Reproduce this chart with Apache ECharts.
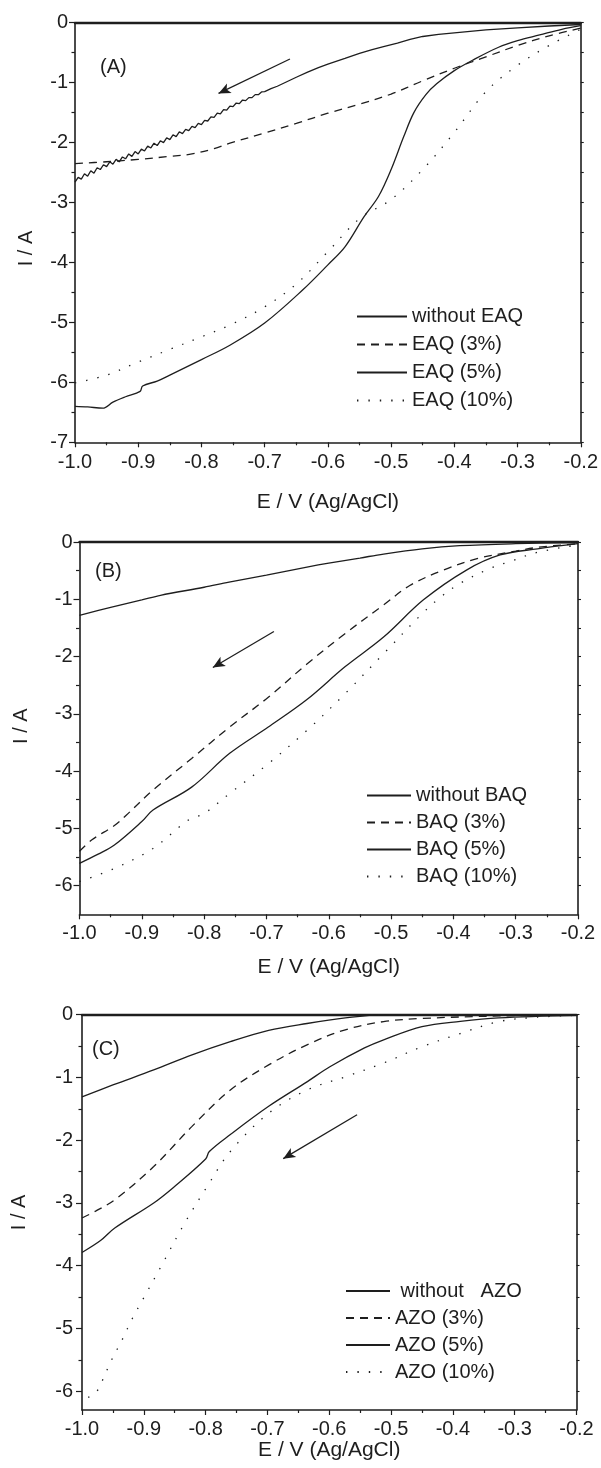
<!DOCTYPE html>
<html><head><meta charset="utf-8">
<script src="https://cdn.jsdelivr.net/npm/echarts@6/dist/echarts.min.js"></script>
<style>html,body{margin:0;padding:0;background:#fff}#c{width:601px;height:1468px}</style>
</head><body><div id="c"></div><script>
// ---------------- data ----------------
const xRange = [-1.0, -0.2];
const panelLabels = ['(A)', '(B)', '(C)'];
const xTitle = 'E / V (Ag/AgCl)';
const yTitle = 'I / A';

const yTicksA = [0, -1, -2, -3, -4, -5, -6, -7];
const yMinorA = [-0.5, -1.5, -2.5, -3.5, -4.5, -5.5, -6.5];
const yTicksB = [0, -1, -2, -3, -4, -5, -6];
const yMinorB = [-0.5, -1.5, -2.5, -3.5, -4.5, -5.5];
const yTicksC = [0, -1, -2, -3, -4, -5, -6];
const yMinorC = [-0.5, -1.5, -2.5, -3.5, -4.5, -5.5];
const yMin = [-7, -6.5, -6.3];

const namesA = ['without EAQ', 'EAQ (3%)', 'EAQ (5%)', 'EAQ (10%)'];
const namesB = ['without BAQ', 'BAQ (3%)', 'BAQ (5%)', 'BAQ (10%)'];
const namesC = [' without   AZO', 'AZO (3%)', 'AZO (5%)', 'AZO (10%)'];

// Panel A
const A_without = [[-1.000,-2.66],[-0.995,-2.58],[-0.990,-2.61],[-0.985,-2.52],[-0.980,-2.56],[-0.975,-2.47],[-0.970,-2.51],[-0.965,-2.42],[-0.960,-2.45],[-0.955,-2.37],[-0.950,-2.40],[-0.945,-2.32],[-0.940,-2.36],[-0.935,-2.28],[-0.930,-2.32],[-0.925,-2.24],[-0.920,-2.27],[-0.915,-2.19],[-0.910,-2.23],[-0.905,-2.15],[-0.900,-2.19],[-0.895,-2.11],[-0.890,-2.14],[-0.885,-2.06],[-0.880,-2.09],[-0.875,-2.01],[-0.870,-2.05],[-0.865,-1.97],[-0.860,-2.00],[-0.855,-1.92],[-0.850,-1.95],[-0.845,-1.87],[-0.840,-1.90],[-0.835,-1.82],[-0.830,-1.85],[-0.825,-1.78],[-0.820,-1.80],[-0.815,-1.73],[-0.810,-1.75],[-0.805,-1.68],[-0.800,-1.70],[-0.795,-1.63],[-0.790,-1.64],[-0.785,-1.57],[-0.780,-1.58],[-0.775,-1.51],[-0.770,-1.52],[-0.765,-1.45],[-0.760,-1.46],[-0.755,-1.39],[-0.750,-1.40],[-0.745,-1.34],[-0.740,-1.35],[-0.735,-1.29],[-0.730,-1.30],[-0.725,-1.25],[-0.720,-1.25],[-0.715,-1.20],[-0.710,-1.20],[-0.705,-1.155],[-0.700,-1.15],[-0.69,-1.10],[-0.68,-1.06],[-0.67,-1.01],[-0.66,-0.96],[-0.65,-0.91],[-0.633,-0.83],[-0.615,-0.75],[-0.60,-0.69],[-0.573,-0.595],[-0.55,-0.51],[-0.53,-0.45],[-0.512,-0.40],[-0.49,-0.34],[-0.47,-0.28],[-0.45,-0.23],[-0.425,-0.195],[-0.40,-0.17],[-0.35,-0.12],[-0.30,-0.085],[-0.25,-0.055],[-0.20,-0.03]];
const A_3 = [[-1.00,-2.35],[-0.95,-2.32],[-0.90,-2.28],[-0.85,-2.23],[-0.815,-2.19],[-0.78,-2.10],[-0.755,-2.01],[-0.70,-1.84],[-0.65,-1.68],[-0.60,-1.51],[-0.55,-1.36],[-0.50,-1.19],[-0.45,-0.97],[-0.40,-0.76],[-0.35,-0.57],[-0.30,-0.38],[-0.25,-0.22],[-0.20,-0.09]];
const A_5 = [[-1.00,-6.40],[-0.98,-6.41],[-0.956,-6.43],[-0.94,-6.33],[-0.92,-6.24],[-0.897,-6.15],[-0.893,-6.06],[-0.87,-5.98],[-0.85,-5.88],[-0.80,-5.62],[-0.755,-5.38],[-0.70,-5.01],[-0.64,-4.46],[-0.60,-4.04],[-0.573,-3.74],[-0.543,-3.24],[-0.52,-2.90],[-0.50,-2.45],[-0.48,-1.90],[-0.464,-1.50],[-0.445,-1.20],[-0.428,-1.02],[-0.40,-0.80],[-0.37,-0.62],[-0.33,-0.41],[-0.30,-0.30],[-0.265,-0.205],[-0.23,-0.11],[-0.20,-0.05]];
const A_10 = [[-1.00,-6.01],[-0.95,-5.88],[-0.90,-5.66],[-0.85,-5.45],[-0.80,-5.24],[-0.75,-5.02],[-0.70,-4.74],[-0.65,-4.36],[-0.60,-3.82],[-0.55,-3.27],[-0.50,-2.95],[-0.45,-2.45],[-0.40,-1.83],[-0.35,-1.15],[-0.30,-0.71],[-0.25,-0.38],[-0.20,-0.11]];

// Panel B
const B_without = [[-1.00,-1.28],[-0.95,-1.14],[-0.90,-1.01],[-0.87,-0.93],[-0.80,-0.79],[-0.76,-0.70],[-0.70,-0.58],[-0.635,-0.44],[-0.60,-0.37],[-0.55,-0.28],[-0.512,-0.21],[-0.45,-0.12],[-0.39,-0.065],[-0.30,-0.03],[-0.20,-0.01]];
const B_3 = [[-1.00,-5.40],[-0.98,-5.20],[-0.944,-4.95],[-0.925,-4.77],[-0.882,-4.33],[-0.82,-3.78],[-0.759,-3.23],[-0.697,-2.71],[-0.635,-2.13],[-0.574,-1.60],[-0.512,-1.10],[-0.47,-0.76],[-0.416,-0.49],[-0.362,-0.29],[-0.30,-0.16],[-0.265,-0.094],[-0.20,-0.03]];
const B_5 = [[-1.00,-5.61],[-0.97,-5.45],[-0.944,-5.29],[-0.90,-4.88],[-0.882,-4.68],[-0.82,-4.28],[-0.759,-3.69],[-0.697,-3.23],[-0.635,-2.75],[-0.574,-2.18],[-0.512,-1.66],[-0.448,-1.01],[-0.379,-0.49],[-0.325,-0.226],[-0.265,-0.12],[-0.20,-0.03]];
const B_10 = [[-1.00,-5.93],[-0.944,-5.70],[-0.882,-5.35],[-0.826,-4.86],[-0.80,-4.74],[-0.759,-4.39],[-0.697,-3.87],[-0.635,-3.29],[-0.574,-2.65],[-0.512,-1.95],[-0.45,-1.25],[-0.419,-0.95],[-0.389,-0.72],[-0.341,-0.46],[-0.309,-0.34],[-0.265,-0.18],[-0.20,-0.05]];

// Panel C
const C_without = [[-1.00,-1.31],[-0.95,-1.12],[-0.884,-0.88],[-0.822,-0.64],[-0.76,-0.43],[-0.698,-0.25],[-0.636,-0.14],[-0.574,-0.05],[-0.512,0.005],[-0.443,0.05]];
const C_3 = [[-1.00,-3.24],[-0.978,-3.13],[-0.947,-2.95],[-0.884,-2.42],[-0.822,-1.78],[-0.76,-1.20],[-0.698,-0.80],[-0.636,-0.48],[-0.574,-0.24],[-0.512,-0.11],[-0.45,-0.06],[-0.326,-0.02],[-0.20,-0.005]];
const C_5 = [[-1.00,-3.79],[-0.97,-3.60],[-0.947,-3.40],[-0.884,-3.00],[-0.853,-2.76],[-0.80,-2.30],[-0.794,-2.18],[-0.76,-1.91],[-0.698,-1.46],[-0.636,-1.07],[-0.599,-0.83],[-0.543,-0.53],[-0.512,-0.40],[-0.45,-0.19],[-0.388,-0.105],[-0.326,-0.05],[-0.20,-0.01]];
const C_10 = [[-0.99,-6.10],[-0.978,-6.03],[-0.968,-5.85],[-0.953,-5.52],[-0.935,-5.18],[-0.919,-4.85],[-0.90,-4.51],[-0.872,-4.01],[-0.835,-3.34],[-0.797,-2.73],[-0.76,-2.18],[-0.698,-1.57],[-0.636,-1.20],[-0.574,-0.99],[-0.512,-0.77],[-0.45,-0.51],[-0.388,-0.30],[-0.326,-0.11],[-0.264,-0.04],[-0.20,-0.01]];

// scan-direction arrows (data coordinates: start -> end)
const arrowA = [[-0.660, -0.606], [-0.773, -1.18]];
const arrowB = [[-0.688, -1.563], [-0.786, -2.19]];
const arrowC = [[-0.555, -1.595], [-0.6745, -2.294]];

// ---------------- chart ----------------
const FONT = 'Liberation Sans, Arial, sans-serif';
const INK = '#1e1e1e';
const grids = [
  {left: 75, right: 20, top: 22.7, bottom: 1025.7},
  {left: 79.5, right: 23, top: 542, bottom: 553.7},
  {left: 82, right: 24.5, top: 1014.7, bottom: 58}
];
const L = [
  {yGap: 39, yPad: [0, 32, 0, 0], xGap: 49, yMargin: 7, xMargin: 10, legend: {left: 356, top: 306.5, itemGap: 8, itemWidth: 50}, label: {left: 100, top: 57}},
  {yGap: 48, yPad: [0, 0, 0, 4], xGap: 42, yMargin: 7, xMargin: 9, legend: {left: 366, top: 785.5, itemGap: 7, itemWidth: 44}, label: {left: 95, top: 561}},
  {yGap: 53, yPad: 0, xGap: 26, yMargin: 9, xMargin: 9, legend: {left: 345, top: 1281, itemGap: 7, itemWidth: 44}, label: {left: 92, top: 1039.5}}
];
const panels = [
  {names: namesA, data: [A_without, A_3, A_5, A_10], ticks: yTicksA, minor: yMinorA, arrow: arrowA},
  {names: namesB, data: [B_without, B_3, B_5, B_10], ticks: yTicksB, minor: yMinorB, arrow: arrowB},
  {names: namesC, data: [C_without, C_3, C_5, C_10], ticks: yTicksC, minor: yMinorC, arrow: arrowC}
];
const styles = [
  {type: 'solid'},
  {type: [8, 6]},
  {type: 'solid'},
  {type: [1.4, 10]}
];
const smoothing = [[0, 0.35, 0.35, 0.35], [0.35, 0.35, 0.35, 0.35], [0.35, 0.35, 0.35, 0.35]];

const option = {
  animation: false,
  backgroundColor: '#fff',
  textStyle: {fontFamily: FONT, color: INK},
  grid: grids,
  title: [], legend: [], xAxis: [], yAxis: [], series: []
};

panels.forEach((p, i) => {
  const lay = L[i];
  option.title.push({text: panelLabels[i], left: lay.label.left, top: lay.label.top, padding: 0,
    textStyle: {fontFamily: FONT, fontSize: 20, fontWeight: 'normal', color: INK, lineHeight: 20}});
  option.legend.push({
    orient: 'vertical', left: lay.legend.left, top: lay.legend.top, padding: 0,
    itemGap: lay.legend.itemGap, itemWidth: lay.legend.itemWidth, itemHeight: 14,
    selectedMode: false, data: p.names,
    itemStyle: {color: 'rgba(0,0,0,0)', borderColor: 'rgba(0,0,0,0)', borderWidth: 0, opacity: 0},
    textStyle: {fontFamily: FONT, fontSize: 20, color: INK, lineHeight: 20}
  });
  option.xAxis.push({
    type: 'value', gridIndex: i, position: 'bottom', min: xRange[0], max: xRange[1], interval: 0.1,
    name: xTitle, nameLocation: 'middle', nameGap: lay.xGap,
    nameTextStyle: {fontFamily: FONT, fontSize: 21, color: INK, lineHeight: 21},
    axisLine: {onZero: false, lineStyle: {color: INK, width: 1.6}},
    axisTick: {show: true, inside: false, length: 5, lineStyle: {color: INK, width: 1.2}},
    minorTick: {show: true, splitNumber: 2, length: 3, lineStyle: {color: INK, width: 1.2}},
    axisLabel: {fontFamily: FONT, fontSize: 20, color: INK, margin: lay.xMargin, lineHeight: 20,
      formatter: v => v.toFixed(1)},
    splitLine: {show: false}
  });
  option.xAxis.push({
    type: 'value', gridIndex: i, position: 'top', min: xRange[0], max: xRange[1], interval: 0.1,
    axisLine: {onZero: false, lineStyle: {color: INK, width: 2.4}},
    axisTick: {show: false}, axisLabel: {show: false}, splitLine: {show: false}
  });
  option.yAxis.push({
    type: 'value', gridIndex: i, position: 'left', min: yMin[i], max: 0,
    name: yTitle, nameLocation: 'middle', nameGap: lay.yGap, nameRotate: 90,
    nameTextStyle: {fontFamily: FONT, fontSize: 20, color: INK, lineHeight: 20, padding: lay.yPad},
    axisLine: {onZero: false, lineStyle: {color: INK, width: 1.6}},
    axisTick: {show: true, inside: false, length: 6, customValues: p.ticks, lineStyle: {color: INK, width: 1.2}},
    axisLabel: {fontFamily: FONT, fontSize: 20, color: INK, margin: lay.yMargin, customValues: p.ticks,
      formatter: v => String(Math.round(v))},
    splitLine: {show: false}
  });
  option.yAxis.push({
    type: 'value', gridIndex: i, position: 'left', min: yMin[i], max: 0,
    axisLine: {show: false, onZero: false},
    axisTick: {show: true, inside: false, length: 3.5, customValues: p.minor, lineStyle: {color: INK, width: 1.2}},
    axisLabel: {show: false}, splitLine: {show: false}
  });
  option.yAxis.push({
    type: 'value', gridIndex: i, position: 'right', min: yMin[i], max: 0,
    axisLine: {show: true, onZero: false, lineStyle: {color: INK, width: 1.6}},
    axisTick: {show: true, inside: false, length: 3, customValues: p.ticks.concat(p.minor), lineStyle: {color: INK, width: 1.1}},
    axisLabel: {show: false}, splitLine: {show: false}
  });
  p.data.forEach((d, k) => {
    const s = {
      type: 'line', name: p.names[k], xAxisIndex: 2 * i, yAxisIndex: 3 * i, data: d,
      symbol: 'none', showSymbol: false, smooth: smoothing[i][k],
      lineStyle: {color: INK, width: 1.3, type: styles[k].type, cap: 'butt'},
      itemStyle: {color: INK}, silent: true
    };
    if (k === 0) {
      s.markLine = {
        silent: true, symbol: ['none', 'arrow'], symbolSize: [8, 12], animation: false,
        label: {show: false},
        lineStyle: {color: INK, width: 1.3, type: 'solid'},
        data: [[{coord: p.arrow[0]}, {coord: p.arrow[1]}]]
      };
    }
    option.series.push(s);
  });
});

const chart = echarts.init(document.getElementById('c'), null, {renderer: 'canvas'});
chart.setOption(option);
</script></body></html>
